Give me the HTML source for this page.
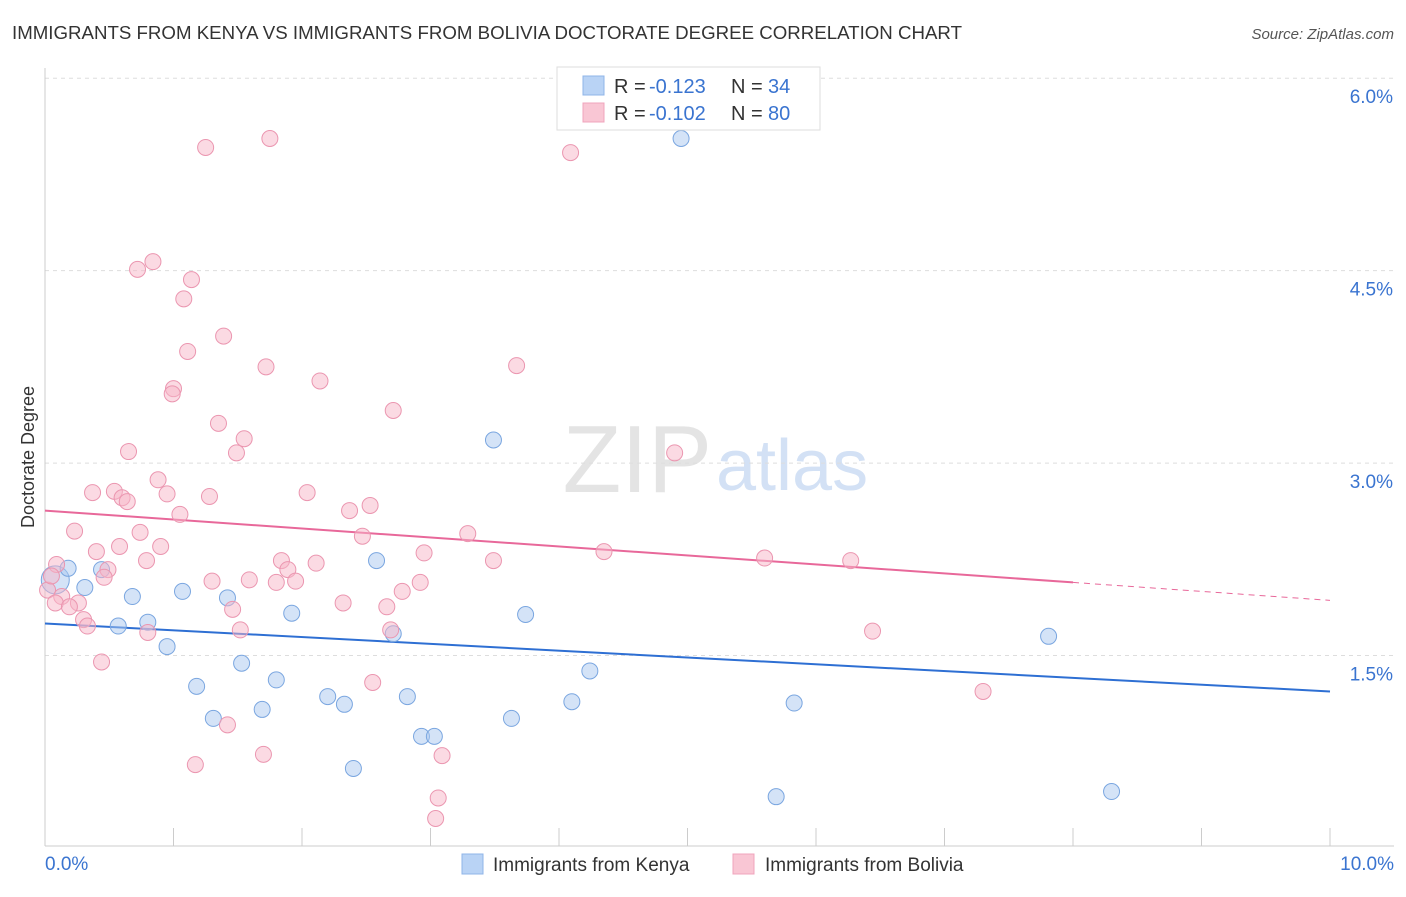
<!DOCTYPE html>
<html><head><meta charset="utf-8"><style>
body{margin:0;background:#fff;font-family:"Liberation Sans",sans-serif;}
svg text{font-family:"Liberation Sans",sans-serif;}
</style></head><body>
<svg id="chart" width="1406" height="892">
<text x="12" y="39" font-size="18.5" fill="#333" textLength="950" lengthAdjust="spacingAndGlyphs">IMMIGRANTS FROM KENYA VS IMMIGRANTS FROM BOLIVIA DOCTORATE DEGREE CORRELATION CHART</text>
<text x="1394" y="39" font-size="15" fill="#555" font-style="italic" text-anchor="end">Source: ZipAtlas.com</text>
<text x="712" y="492" font-size="96" fill="#e4e4e4" text-anchor="end" font-family="Liberation Serif">ZIP</text>
<text x="716" y="490" font-size="72" fill="#d3e1f5">atlas</text>
<text transform="translate(34,457) rotate(-90)" font-size="18" fill="#333" text-anchor="middle">Doctorate Degree</text>
<g id="grid"></g><g id="trends"></g><g id="pts"></g>
<g>
<rect x="557" y="67" width="263" height="63" fill="#fff" stroke="#ddd"/>
<rect x="583" y="76" width="21" height="19" fill="#b9d3f5" stroke="#8fb4e8"/>
<rect x="583" y="103" width="21" height="19" fill="#f9c6d4" stroke="#f0a4bc"/>
<text x="614" y="93" font-size="20" fill="#333">R =</text>
<text x="649" y="93" font-size="20" fill="#3a74d0">-0.123</text>
<text x="731" y="93" font-size="20" fill="#333">N =</text>
<text x="768" y="93" font-size="20" fill="#3a74d0">34</text>
<text x="614" y="120" font-size="20" fill="#333">R =</text>
<text x="649" y="120" font-size="20" fill="#3a74d0">-0.102</text>
<text x="731" y="120" font-size="20" fill="#333">N =</text>
<text x="768" y="120" font-size="20" fill="#3a74d0">80</text>
</g>
<g>
<rect x="462" y="854" width="21" height="20" fill="#b9d3f5" stroke="#8fb4e8"/>
<text x="493" y="871" font-size="19" fill="#333">Immigrants from Kenya</text>
<rect x="733" y="854" width="21" height="20" fill="#f9c6d4" stroke="#f0a4bc"/>
<text x="765" y="871" font-size="19" fill="#333">Immigrants from Bolivia</text>
</g>
</svg>
<script>
const kenyaX=[.08,.18,.31,.44,.57,.68,.80,.95,1.07,1.18,1.31,1.42,1.53,1.69,1.80,1.92,2.20,2.33,2.40,2.58,2.71,2.82,2.93,3.03,3.49,3.63,3.74,4.10,4.24,4.95,5.69,5.83,7.81,8.30];
const kenyaY=[2.09,2.18,2.03,2.17,1.73,1.96,1.76,1.57,2.00,1.26,1.01,1.95,1.44,1.08,1.31,1.83,1.18,1.12,0.62,2.24,1.67,1.18,0.87,0.87,3.18,1.01,1.82,1.14,1.38,5.53,0.40,1.13,1.65,0.44];
const boliviaX=[1.25,1.75,4.09,.84,.72,1.14,1.08,1.39,1.11,1.72,2.14,3.67,1.00,.99,2.71,1.35,1.55,.65,1.49,4.90,.88,.37,.54,.60,.64,.95,1.28,2.04,1.05,2.37,2.53,.23,.74,2.47,3.29,.40,.58,.90,.79,1.84,2.11,2.95,3.49,4.35,5.60,6.27,.09,.49,.46,1.89,1.30,1.59,1.80,1.95,2.78,2.92,.02,.13,.08,.26,.19,2.32,1.46,2.66,.30,.33,.80,1.52,2.69,6.44,.44,2.55,7.30,1.42,1.70,1.17,3.09,3.06,3.04,.05];
const boliviaY=[5.46,5.53,5.42,4.57,4.51,4.43,4.28,3.99,3.87,3.75,3.64,3.76,3.58,3.54,3.41,3.31,3.19,3.09,3.08,3.08,2.87,2.77,2.78,2.73,2.70,2.76,2.74,2.77,2.60,2.63,2.67,2.47,2.46,2.43,2.45,2.31,2.35,2.35,2.24,2.24,2.22,2.30,2.24,2.31,2.26,2.24,2.21,2.17,2.11,2.17,2.08,2.09,2.07,2.08,2.00,2.07,2.01,1.96,1.91,1.91,1.88,1.91,1.86,1.88,1.78,1.73,1.68,1.70,1.70,1.69,1.45,1.29,1.22,0.96,0.73,0.65,0.72,0.39,0.23,2.12];
const yTicks=[1.5,3.0,4.5,6.0];
const yTickLabels=["1.5%","3.0%","4.5%","6.0%"];
const xTicks=[0,1,2,3,4,5,6,7,8,9,10];
const kenyaTrend=[1.75,1.22];
const boliviaTrend=[2.63,1.93];
const boliviaSolidEnd=8.0;
const NS="http://www.w3.org/2000/svg";
const sx=v=>45+v*128.5, sy=v=>848-v*128.3;
function mk(tag,attrs,parent){const e=document.createElementNS(NS,tag);for(const k in attrs)e.setAttribute(k,attrs[k]);parent.appendChild(e);return e;}
const grid=document.getElementById('grid');
yTicks.forEach((t,i)=>{
 const l=mk('line',{x1:45,x2:1394,y1:sy(t),y2:sy(t),stroke:'#ddd','stroke-dasharray':'4,4'},grid);
 
 
 const tx=mk('text',{x:1393,y:sy(t)+25,'font-size':19,fill:'#3a74d0','text-anchor':'end'},grid);
 tx.textContent=yTickLabels[i];
 
 
});
const ax=mk('line',{x1:45,x2:1394,y1:846,y2:846,stroke:'#ccc'},grid);


const ay=mk('line',{x1:45,x2:45,y1:68,y2:846,stroke:'#ccc'},grid);


xTicks.forEach(t=>{
 const l=mk('line',{x1:sx(t),x2:sx(t),y1:828,y2:846,stroke:'#ccc'},grid);
 
 
});
const xl0=mk('text',{x:45,y:870,'font-size':19,fill:'#3a74d0'},grid);xl0.textContent='0.0%';


const xl1=mk('text',{x:1394,y:870,'font-size':19,fill:'#3a74d0','text-anchor':'end'},grid);xl1.textContent='10.0%';


const pts=document.getElementById('pts');
kenyaX.forEach((x,i)=>{
 const c=mk('circle',{cx:sx(x),cy:sy(kenyaY[i]),r:i===0?14:8,fill:'#a9c8f0','fill-opacity':0.5,stroke:'#7aa6e0','stroke-width':1},pts);
 
 
});
boliviaX.forEach((x,i)=>{
 const c=mk('circle',{cx:sx(x),cy:sy(boliviaY[i]),r:8,fill:'#f7b6c8','fill-opacity':0.5,stroke:'#eb96b0','stroke-width':1},pts);
 
 
});
const tr=document.getElementById('trends');
const kl=mk('line',{x1:sx(0),y1:sy(kenyaTrend[0]),x2:sx(10),y2:sy(kenyaTrend[1]),stroke:'#2e6fd3','stroke-width':2},tr);


const bAt=v=>boliviaTrend[0]+(boliviaTrend[1]-boliviaTrend[0])*v/10;
const bl=mk('line',{x1:sx(0),y1:sy(bAt(0)),x2:sx(boliviaSolidEnd),y2:sy(bAt(boliviaSolidEnd)),stroke:'#e8689a','stroke-width':2},tr);


const bd=mk('line',{x1:sx(boliviaSolidEnd),y1:sy(bAt(boliviaSolidEnd)),x2:sx(10),y2:sy(bAt(10)),stroke:'#e8689a','stroke-width':1,'stroke-dasharray':'6,5'},tr);


</script>
</body></html>
